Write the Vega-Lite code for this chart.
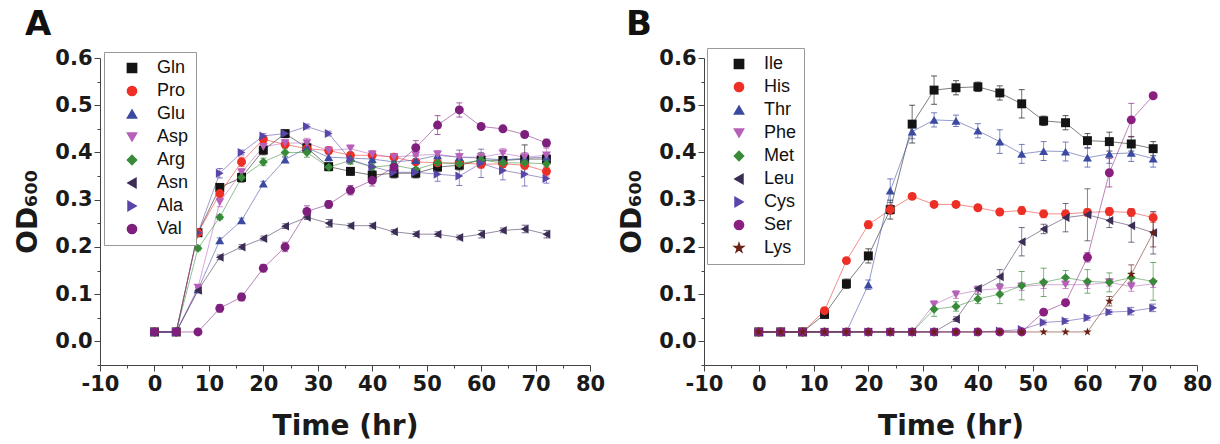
{
"$schema": "https://vega.github.io/schema/vega-lite/v6.json",
"background": "white",
"padding": {"left": 14, "top": 8, "right": 5, "bottom": 2},
"spacing": 13,
"config": {
  "view": {"stroke": null},
  "axis": {"grid": false, "labelFont": "DejaVu Sans", "labelFontWeight": "bold", "labelFontSize": 21, "labelColor": "#1a1a1a", "titleFont": "DejaVu Sans", "titleFontWeight": "bold", "titleFontSize": 28, "titleColor": "#1a1a1a", "domainColor": "#444", "tickColor": "#444", "labelPadding": 2, "labelFlush": false},
  "legend": {"labelFont": "Liberation Sans", "labelFontSize": 18, "labelColor": "#111", "symbolOpacity": 1},
  "title": {"font": "DejaVu Sans", "fontWeight": "bold", "fontSize": 34, "color": "#111", "anchor": "start", "frame": "group"}
},
"datasets": {
"a": [
{"s":"Gln","t":0,"y":0.02,"e":0},{"s":"Gln","t":4,"y":0.02,"e":0},{"s":"Gln","t":8,"y":0.23,"e":0.005},{"s":"Gln","t":12,"y":0.326,"e":0.008},{"s":"Gln","t":16,"y":0.347,"e":0.01},{"s":"Gln","t":20,"y":0.405,"e":0.01},{"s":"Gln","t":24,"y":0.44,"e":0.005},{"s":"Gln","t":28,"y":0.41,"e":0.01},{"s":"Gln","t":32,"y":0.37,"e":0.005},{"s":"Gln","t":36,"y":0.36,"e":0.008},{"s":"Gln","t":40,"y":0.352,"e":0.008},{"s":"Gln","t":44,"y":0.356,"e":0.01},{"s":"Gln","t":48,"y":0.356,"e":0.01},{"s":"Gln","t":52,"y":0.369,"e":0.01},{"s":"Gln","t":56,"y":0.373,"e":0.01},{"s":"Gln","t":60,"y":0.384,"e":0.01},{"s":"Gln","t":64,"y":0.383,"e":0.02},{"s":"Gln","t":68,"y":0.386,"e":0.03},{"s":"Gln","t":72,"y":0.386,"e":0.01},
{"s":"Pro","t":0,"y":0.02,"e":0},{"s":"Pro","t":4,"y":0.02,"e":0},{"s":"Pro","t":8,"y":0.23,"e":0.005},{"s":"Pro","t":12,"y":0.313,"e":0.01},{"s":"Pro","t":16,"y":0.38,"e":0.01},{"s":"Pro","t":20,"y":0.428,"e":0.008},{"s":"Pro","t":24,"y":0.417,"e":0.005},{"s":"Pro","t":28,"y":0.408,"e":0.005},{"s":"Pro","t":32,"y":0.404,"e":0.005},{"s":"Pro","t":36,"y":0.394,"e":0.005},{"s":"Pro","t":40,"y":0.394,"e":0.008},{"s":"Pro","t":44,"y":0.39,"e":0.005},{"s":"Pro","t":48,"y":0.38,"e":0.005},{"s":"Pro","t":52,"y":0.378,"e":0.005},{"s":"Pro","t":56,"y":0.378,"e":0.005},{"s":"Pro","t":60,"y":0.375,"e":0.008},{"s":"Pro","t":64,"y":0.376,"e":0.008},{"s":"Pro","t":68,"y":0.373,"e":0.008},{"s":"Pro","t":72,"y":0.36,"e":0.01},
{"s":"Glu","t":0,"y":0.02,"e":0},{"s":"Glu","t":4,"y":0.02,"e":0},{"s":"Glu","t":8,"y":0.11,"e":0.005},{"s":"Glu","t":12,"y":0.214,"e":0.005},{"s":"Glu","t":16,"y":0.256,"e":0.005},{"s":"Glu","t":20,"y":0.334,"e":0.005},{"s":"Glu","t":24,"y":0.385,"e":0.005},{"s":"Glu","t":28,"y":0.41,"e":0.008},{"s":"Glu","t":32,"y":0.39,"e":0.008},{"s":"Glu","t":36,"y":0.388,"e":0.005},{"s":"Glu","t":40,"y":0.386,"e":0.005},{"s":"Glu","t":44,"y":0.38,"e":0.008},{"s":"Glu","t":48,"y":0.384,"e":0.008},{"s":"Glu","t":52,"y":0.394,"e":0.008},{"s":"Glu","t":56,"y":0.39,"e":0.015},{"s":"Glu","t":60,"y":0.388,"e":0.008},{"s":"Glu","t":64,"y":0.384,"e":0.008},{"s":"Glu","t":68,"y":0.388,"e":0.008},{"s":"Glu","t":72,"y":0.39,"e":0.008},
{"s":"Asp","t":0,"y":0.02,"e":0},{"s":"Asp","t":4,"y":0.02,"e":0},{"s":"Asp","t":8,"y":0.114,"e":0.005},{"s":"Asp","t":12,"y":0.295,"e":0.01},{"s":"Asp","t":16,"y":0.358,"e":0.008},{"s":"Asp","t":20,"y":0.412,"e":0.008},{"s":"Asp","t":24,"y":0.42,"e":0.008},{"s":"Asp","t":28,"y":0.42,"e":0.01},{"s":"Asp","t":32,"y":0.404,"e":0.008},{"s":"Asp","t":36,"y":0.408,"e":0.008},{"s":"Asp","t":40,"y":0.396,"e":0.008},{"s":"Asp","t":44,"y":0.39,"e":0.008},{"s":"Asp","t":48,"y":0.394,"e":0.008},{"s":"Asp","t":52,"y":0.396,"e":0.008},{"s":"Asp","t":56,"y":0.39,"e":0.008},{"s":"Asp","t":60,"y":0.39,"e":0.01},{"s":"Asp","t":64,"y":0.398,"e":0.01},{"s":"Asp","t":68,"y":0.39,"e":0.01},{"s":"Asp","t":72,"y":0.394,"e":0.015},
{"s":"Arg","t":0,"y":0.02,"e":0},{"s":"Arg","t":4,"y":0.02,"e":0},{"s":"Arg","t":8,"y":0.197,"e":0.005},{"s":"Arg","t":12,"y":0.263,"e":0.005},{"s":"Arg","t":16,"y":0.347,"e":0.008},{"s":"Arg","t":20,"y":0.38,"e":0.008},{"s":"Arg","t":24,"y":0.40,"e":0.008},{"s":"Arg","t":28,"y":0.40,"e":0.01},{"s":"Arg","t":32,"y":0.369,"e":0.008},{"s":"Arg","t":36,"y":0.383,"e":0.008},{"s":"Arg","t":40,"y":0.369,"e":0.008},{"s":"Arg","t":44,"y":0.373,"e":0.008},{"s":"Arg","t":48,"y":0.364,"e":0.01},{"s":"Arg","t":52,"y":0.378,"e":0.01},{"s":"Arg","t":56,"y":0.376,"e":0.01},{"s":"Arg","t":60,"y":0.384,"e":0.015},{"s":"Arg","t":64,"y":0.378,"e":0.01},{"s":"Arg","t":68,"y":0.378,"e":0.01},{"s":"Arg","t":72,"y":0.376,"e":0.008},
{"s":"Asn","t":0,"y":0.02,"e":0},{"s":"Asn","t":4,"y":0.02,"e":0},{"s":"Asn","t":8,"y":0.108,"e":0.005},{"s":"Asn","t":12,"y":0.178,"e":0.005},{"s":"Asn","t":16,"y":0.2,"e":0.005},{"s":"Asn","t":20,"y":0.218,"e":0.005},{"s":"Asn","t":24,"y":0.244,"e":0.005},{"s":"Asn","t":28,"y":0.263,"e":0.005},{"s":"Asn","t":32,"y":0.25,"e":0.008},{"s":"Asn","t":36,"y":0.245,"e":0.005},{"s":"Asn","t":40,"y":0.245,"e":0.005},{"s":"Asn","t":44,"y":0.232,"e":0.005},{"s":"Asn","t":48,"y":0.227,"e":0.005},{"s":"Asn","t":52,"y":0.227,"e":0.005},{"s":"Asn","t":56,"y":0.22,"e":0.005},{"s":"Asn","t":60,"y":0.227,"e":0.008},{"s":"Asn","t":64,"y":0.235,"e":0.005},{"s":"Asn","t":68,"y":0.238,"e":0.008},{"s":"Asn","t":72,"y":0.227,"e":0.008},
{"s":"Ala","t":0,"y":0.02,"e":0},{"s":"Ala","t":4,"y":0.02,"e":0},{"s":"Ala","t":8,"y":0.23,"e":0.005},{"s":"Ala","t":12,"y":0.356,"e":0.01},{"s":"Ala","t":16,"y":0.40,"e":0.005},{"s":"Ala","t":20,"y":0.435,"e":0.005},{"s":"Ala","t":24,"y":0.44,"e":0.005},{"s":"Ala","t":28,"y":0.455,"e":0.005},{"s":"Ala","t":32,"y":0.44,"e":0.005},{"s":"Ala","t":36,"y":0.385,"e":0.008},{"s":"Ala","t":40,"y":0.37,"e":0.008},{"s":"Ala","t":44,"y":0.358,"e":0.01},{"s":"Ala","t":48,"y":0.358,"e":0.01},{"s":"Ala","t":52,"y":0.354,"e":0.015},{"s":"Ala","t":56,"y":0.35,"e":0.02},{"s":"Ala","t":60,"y":0.377,"e":0.03},{"s":"Ala","t":64,"y":0.362,"e":0.02},{"s":"Ala","t":68,"y":0.354,"e":0.025},{"s":"Ala","t":72,"y":0.345,"e":0.01},
{"s":"Val","t":0,"y":0.02,"e":0},{"s":"Val","t":4,"y":0.02,"e":0},{"s":"Val","t":8,"y":0.02,"e":0},{"s":"Val","t":12,"y":0.07,"e":0.008},{"s":"Val","t":16,"y":0.094,"e":0.008},{"s":"Val","t":20,"y":0.155,"e":0.008},{"s":"Val","t":24,"y":0.2,"e":0.01},{"s":"Val","t":28,"y":0.275,"e":0.012},{"s":"Val","t":32,"y":0.29,"e":0.008},{"s":"Val","t":36,"y":0.32,"e":0.01},{"s":"Val","t":40,"y":0.341,"e":0.012},{"s":"Val","t":44,"y":0.369,"e":0.01},{"s":"Val","t":48,"y":0.41,"e":0.015},{"s":"Val","t":52,"y":0.458,"e":0.02},{"s":"Val","t":56,"y":0.49,"e":0.015},{"s":"Val","t":60,"y":0.455,"e":0.005},{"s":"Val","t":64,"y":0.45,"e":0.005},{"s":"Val","t":68,"y":0.438,"e":0.005},{"s":"Val","t":72,"y":0.42,"e":0.008}
],
"b": [
{"s":"Ile","t":0,"y":0.02,"e":0},{"s":"Ile","t":4,"y":0.02,"e":0},{"s":"Ile","t":8,"y":0.02,"e":0},{"s":"Ile","t":12,"y":0.057,"e":0.005},{"s":"Ile","t":16,"y":0.122,"e":0.01},{"s":"Ile","t":20,"y":0.181,"e":0.015},{"s":"Ile","t":24,"y":0.279,"e":0.02},{"s":"Ile","t":28,"y":0.46,"e":0.04},{"s":"Ile","t":32,"y":0.532,"e":0.03},{"s":"Ile","t":36,"y":0.537,"e":0.015},{"s":"Ile","t":40,"y":0.539,"e":0.01},{"s":"Ile","t":44,"y":0.526,"e":0.015},{"s":"Ile","t":48,"y":0.503,"e":0.03},{"s":"Ile","t":52,"y":0.467,"e":0.01},{"s":"Ile","t":56,"y":0.463,"e":0.015},{"s":"Ile","t":60,"y":0.425,"e":0.015},{"s":"Ile","t":64,"y":0.423,"e":0.02},{"s":"Ile","t":68,"y":0.418,"e":0.015},{"s":"Ile","t":72,"y":0.408,"e":0.015},
{"s":"His","t":0,"y":0.02,"e":0},{"s":"His","t":4,"y":0.02,"e":0},{"s":"His","t":8,"y":0.02,"e":0},{"s":"His","t":12,"y":0.065,"e":0.005},{"s":"His","t":16,"y":0.171,"e":0.005},{"s":"His","t":20,"y":0.247,"e":0.008},{"s":"His","t":24,"y":0.279,"e":0.01},{"s":"His","t":28,"y":0.307,"e":0.005},{"s":"His","t":32,"y":0.29,"e":0.005},{"s":"His","t":36,"y":0.29,"e":0.005},{"s":"His","t":40,"y":0.283,"e":0.005},{"s":"His","t":44,"y":0.274,"e":0.005},{"s":"His","t":48,"y":0.277,"e":0.008},{"s":"His","t":52,"y":0.27,"e":0.008},{"s":"His","t":56,"y":0.27,"e":0.008},{"s":"His","t":60,"y":0.273,"e":0.008},{"s":"His","t":64,"y":0.275,"e":0.008},{"s":"His","t":68,"y":0.273,"e":0.008},{"s":"His","t":72,"y":0.262,"e":0.01},
{"s":"Thr","t":0,"y":0.02,"e":0},{"s":"Thr","t":4,"y":0.02,"e":0},{"s":"Thr","t":8,"y":0.02,"e":0},{"s":"Thr","t":12,"y":0.02,"e":0},{"s":"Thr","t":16,"y":0.02,"e":0},{"s":"Thr","t":20,"y":0.12,"e":0.01},{"s":"Thr","t":24,"y":0.319,"e":0.025},{"s":"Thr","t":28,"y":0.444,"e":0.015},{"s":"Thr","t":32,"y":0.469,"e":0.015},{"s":"Thr","t":36,"y":0.467,"e":0.012},{"s":"Thr","t":40,"y":0.446,"e":0.015},{"s":"Thr","t":44,"y":0.423,"e":0.025},{"s":"Thr","t":48,"y":0.397,"e":0.02},{"s":"Thr","t":52,"y":0.403,"e":0.02},{"s":"Thr","t":56,"y":0.402,"e":0.02},{"s":"Thr","t":60,"y":0.389,"e":0.02},{"s":"Thr","t":64,"y":0.397,"e":0.02},{"s":"Thr","t":68,"y":0.399,"e":0.018},{"s":"Thr","t":72,"y":0.387,"e":0.018},
{"s":"Phe","t":0,"y":0.02,"e":0},{"s":"Phe","t":4,"y":0.02,"e":0},{"s":"Phe","t":8,"y":0.02,"e":0},{"s":"Phe","t":12,"y":0.02,"e":0},{"s":"Phe","t":16,"y":0.02,"e":0},{"s":"Phe","t":20,"y":0.02,"e":0},{"s":"Phe","t":24,"y":0.02,"e":0},{"s":"Phe","t":28,"y":0.02,"e":0},{"s":"Phe","t":32,"y":0.078,"e":0.008},{"s":"Phe","t":36,"y":0.099,"e":0.008},{"s":"Phe","t":40,"y":0.108,"e":0.008},{"s":"Phe","t":44,"y":0.112,"e":0.008},{"s":"Phe","t":48,"y":0.116,"e":0.008},{"s":"Phe","t":52,"y":0.12,"e":0.008},{"s":"Phe","t":56,"y":0.12,"e":0.008},{"s":"Phe","t":60,"y":0.12,"e":0.008},{"s":"Phe","t":64,"y":0.125,"e":0.008},{"s":"Phe","t":68,"y":0.116,"e":0.01},{"s":"Phe","t":72,"y":0.122,"e":0.008},
{"s":"Met","t":0,"y":0.02,"e":0},{"s":"Met","t":4,"y":0.02,"e":0},{"s":"Met","t":8,"y":0.02,"e":0},{"s":"Met","t":12,"y":0.02,"e":0},{"s":"Met","t":16,"y":0.02,"e":0},{"s":"Met","t":20,"y":0.02,"e":0},{"s":"Met","t":24,"y":0.02,"e":0},{"s":"Met","t":28,"y":0.02,"e":0},{"s":"Met","t":32,"y":0.068,"e":0.015},{"s":"Met","t":36,"y":0.074,"e":0.01},{"s":"Met","t":40,"y":0.09,"e":0.01},{"s":"Met","t":44,"y":0.1,"e":0.02},{"s":"Met","t":48,"y":0.118,"e":0.03},{"s":"Met","t":52,"y":0.125,"e":0.03},{"s":"Met","t":56,"y":0.135,"e":0.015},{"s":"Met","t":60,"y":0.127,"e":0.025},{"s":"Met","t":64,"y":0.125,"e":0.02},{"s":"Met","t":68,"y":0.135,"e":0.01},{"s":"Met","t":72,"y":0.127,"e":0.04},
{"s":"Leu","t":0,"y":0.02,"e":0},{"s":"Leu","t":4,"y":0.02,"e":0},{"s":"Leu","t":8,"y":0.02,"e":0},{"s":"Leu","t":12,"y":0.02,"e":0},{"s":"Leu","t":16,"y":0.02,"e":0},{"s":"Leu","t":20,"y":0.02,"e":0},{"s":"Leu","t":24,"y":0.02,"e":0},{"s":"Leu","t":28,"y":0.02,"e":0},{"s":"Leu","t":32,"y":0.02,"e":0},{"s":"Leu","t":36,"y":0.047,"e":0.005},{"s":"Leu","t":40,"y":0.112,"e":0.005},{"s":"Leu","t":44,"y":0.137,"e":0.015},{"s":"Leu","t":48,"y":0.211,"e":0.03},{"s":"Leu","t":52,"y":0.238,"e":0.01},{"s":"Leu","t":56,"y":0.262,"e":0.03},{"s":"Leu","t":60,"y":0.268,"e":0.055},{"s":"Leu","t":64,"y":0.256,"e":0.015},{"s":"Leu","t":68,"y":0.245,"e":0.035},{"s":"Leu","t":72,"y":0.23,"e":0.045},
{"s":"Cys","t":0,"y":0.02,"e":0},{"s":"Cys","t":4,"y":0.02,"e":0},{"s":"Cys","t":8,"y":0.02,"e":0},{"s":"Cys","t":12,"y":0.02,"e":0},{"s":"Cys","t":16,"y":0.02,"e":0},{"s":"Cys","t":20,"y":0.02,"e":0},{"s":"Cys","t":24,"y":0.02,"e":0},{"s":"Cys","t":28,"y":0.02,"e":0},{"s":"Cys","t":32,"y":0.02,"e":0},{"s":"Cys","t":36,"y":0.02,"e":0},{"s":"Cys","t":40,"y":0.02,"e":0},{"s":"Cys","t":44,"y":0.022,"e":0.003},{"s":"Cys","t":48,"y":0.025,"e":0.003},{"s":"Cys","t":52,"y":0.04,"e":0.005},{"s":"Cys","t":56,"y":0.043,"e":0.005},{"s":"Cys","t":60,"y":0.05,"e":0.005},{"s":"Cys","t":64,"y":0.062,"e":0.005},{"s":"Cys","t":68,"y":0.064,"e":0.008},{"s":"Cys","t":72,"y":0.071,"e":0.008},
{"s":"Ser","t":0,"y":0.02,"e":0},{"s":"Ser","t":4,"y":0.02,"e":0},{"s":"Ser","t":8,"y":0.02,"e":0},{"s":"Ser","t":12,"y":0.02,"e":0},{"s":"Ser","t":16,"y":0.02,"e":0},{"s":"Ser","t":20,"y":0.02,"e":0},{"s":"Ser","t":24,"y":0.02,"e":0},{"s":"Ser","t":28,"y":0.02,"e":0},{"s":"Ser","t":32,"y":0.02,"e":0},{"s":"Ser","t":36,"y":0.02,"e":0},{"s":"Ser","t":40,"y":0.02,"e":0},{"s":"Ser","t":44,"y":0.02,"e":0},{"s":"Ser","t":48,"y":0.02,"e":0},{"s":"Ser","t":52,"y":0.062,"e":0.005},{"s":"Ser","t":56,"y":0.082,"e":0.005},{"s":"Ser","t":60,"y":0.178,"e":0.01},{"s":"Ser","t":64,"y":0.357,"e":0.03},{"s":"Ser","t":68,"y":0.469,"e":0.035},{"s":"Ser","t":72,"y":0.52,"e":0.005},
{"s":"Lys","t":0,"y":0.02,"e":0},{"s":"Lys","t":4,"y":0.02,"e":0},{"s":"Lys","t":8,"y":0.02,"e":0},{"s":"Lys","t":12,"y":0.02,"e":0},{"s":"Lys","t":16,"y":0.02,"e":0},{"s":"Lys","t":20,"y":0.02,"e":0},{"s":"Lys","t":24,"y":0.02,"e":0},{"s":"Lys","t":28,"y":0.02,"e":0},{"s":"Lys","t":32,"y":0.02,"e":0},{"s":"Lys","t":36,"y":0.02,"e":0},{"s":"Lys","t":40,"y":0.02,"e":0},{"s":"Lys","t":44,"y":0.02,"e":0},{"s":"Lys","t":48,"y":0.02,"e":0},{"s":"Lys","t":52,"y":0.02,"e":0},{"s":"Lys","t":56,"y":0.02,"e":0},{"s":"Lys","t":60,"y":0.02,"e":0},{"s":"Lys","t":64,"y":0.085,"e":0.01},{"s":"Lys","t":68,"y":0.142,"e":0.02},{"s":"Lys","t":72,"y":0.23,"e":0.03}
]
},
"hconcat": [
{
  "width": 490, "height": 307,
  "title": {"text": "A", "dx": -75, "offset": 5},
  "data": {"name": "a"},
  "encoding": {
    "x": {"field": "t", "type": "quantitative", "scale": {"domain": [-10, 80], "nice": false, "zero": false},
      "axis": {"title": "Time (hr)", "values": [-10,-5,0,5,10,15,20,25,30,35,40,45,50,55,60,65,70,75,80], "labelExpr": "datum.value % 10 === 0 ? (datum.value < 0 ? '-' + abs(datum.value) : '' + datum.value) : ''", "tickSize": {"condition": {"test": "datum.value % 10 !== 0", "value": 3}, "value": 6}, "titlePadding": 18}},
    "y": {"field": "y", "type": "quantitative", "scale": {"domain": [-0.05, 0.6], "nice": false, "zero": false},
      "axis": {"title": "OD₆₀₀", "values": [-0.05,0,0.05,0.1,0.15,0.2,0.25,0.3,0.35,0.4,0.45,0.5,0.55,0.6], "labelExpr": "(abs(datum.value*10 - round(datum.value*10)) < 0.01 && datum.value > -0.01) ? format(datum.value, '.1f') : ''", "tickSize": {"condition": {"test": "abs(datum.value*10 - round(datum.value*10)) > 0.01", "value": 3}, "value": 6}, "titlePadding": 12}},
    "color": {"field": "s", "type": "nominal", "scale": {"domain": ["Gln","Pro","Glu","Asp","Arg","Asn","Ala","Val"], "range": ["#141414","#ee2f25","#3b4aa0","#b660b9","#378a37","#3b2d55","#5a45a8","#7e1f7d"]},
      "legend": {"title": null, "orient": "none", "legendX": 4, "legendY": -6, "strokeColor": "#999", "fillColor": "white", "padding": 7, "symbolSize": 85, "symbolOffset": 12, "labelOffset": 16, "rowPadding": 5}}
  },
  "layer": [
    {"mark": {"type": "line", "strokeWidth": 1, "strokeOpacity": 0.55}},
    {"transform": [{"filter": "datum.e > 0"}],
     "mark": {"type": "errorbar", "ticks": {"size": 6, "strokeOpacity": 0.6}, "rule": {"strokeOpacity": 0.6}, "thickness": 1},
     "encoding": {"yError": {"field": "e"}}},
    {"mark": {"type": "point", "filled": true, "size": 80, "opacity": 1},
     "encoding": {
       "shape": {"field": "s", "type": "nominal", "scale": {"domain": ["Gln","Pro","Glu","Asp","Arg","Asn","Ala","Val"], "range": ["square","circle","triangle-up","triangle-down","diamond","triangle-left","triangle-right","circle"]}}
     }}
  ]
},
{
  "width": 493, "height": 307,
  "title": {"text": "B", "dx": -78, "offset": 5},
  "data": {"name": "b"},
  "encoding": {
    "x": {"field": "t", "type": "quantitative", "scale": {"domain": [-10, 80], "nice": false, "zero": false},
      "axis": {"title": "Time (hr)", "values": [-10,-5,0,5,10,15,20,25,30,35,40,45,50,55,60,65,70,75,80], "labelExpr": "datum.value % 10 === 0 ? (datum.value < 0 ? '-' + abs(datum.value) : '' + datum.value) : ''", "tickSize": {"condition": {"test": "datum.value % 10 !== 0", "value": 3}, "value": 6}, "titlePadding": 18}},
    "y": {"field": "y", "type": "quantitative", "scale": {"domain": [-0.05, 0.6], "nice": false, "zero": false},
      "axis": {"title": "OD₆₀₀", "values": [-0.05,0,0.05,0.1,0.15,0.2,0.25,0.3,0.35,0.4,0.45,0.5,0.55,0.6], "labelExpr": "(abs(datum.value*10 - round(datum.value*10)) < 0.01 && datum.value > -0.01) ? format(datum.value, '.1f') : ''", "tickSize": {"condition": {"test": "abs(datum.value*10 - round(datum.value*10)) > 0.01", "value": 3}, "value": 6}, "titlePadding": 12}},
    "color": {"field": "s", "type": "nominal", "scale": {"domain": ["Ile","His","Thr","Phe","Met","Leu","Cys","Ser","Lys"], "range": ["#141414","#ee2f25","#3b4aa0","#b660b9","#378a37","#3b2d55","#5a45a8","#8a1f80","#6b2114"]},
      "legend": {"title": null, "orient": "none", "legendX": 3, "legendY": -10, "strokeColor": "#999", "fillColor": "white", "padding": 7, "symbolSize": 85, "symbolOffset": 16, "labelOffset": 16, "rowPadding": 5}}
  },
  "layer": [
    {"mark": {"type": "line", "strokeWidth": 1, "strokeOpacity": 0.55}},
    {"transform": [{"filter": "datum.e > 0"}],
     "mark": {"type": "errorbar", "ticks": {"size": 6, "strokeOpacity": 0.6}, "rule": {"strokeOpacity": 0.6}, "thickness": 1},
     "encoding": {"yError": {"field": "e"}}},
    {"mark": {"type": "point", "filled": true, "size": 80, "opacity": 1},
     "encoding": {
       "shape": {"field": "s", "type": "nominal", "scale": {"domain": ["Ile","His","Thr","Phe","Met","Leu","Cys","Ser","Lys"], "range": ["square","circle","triangle-up","triangle-down","diamond","triangle-left","triangle-right","circle","M0,-1L0.2245,-0.309L0.951,-0.309L0.363,0.118L0.588,0.809L0,0.382L-0.588,0.809L-0.363,0.118L-0.951,-0.309L-0.2245,-0.309Z"]}}
     }}
  ]
}
],
"resolve": {"scale": {"color": "independent", "shape": "independent"}, "legend": {"color": "independent", "shape": "independent"}}
}
